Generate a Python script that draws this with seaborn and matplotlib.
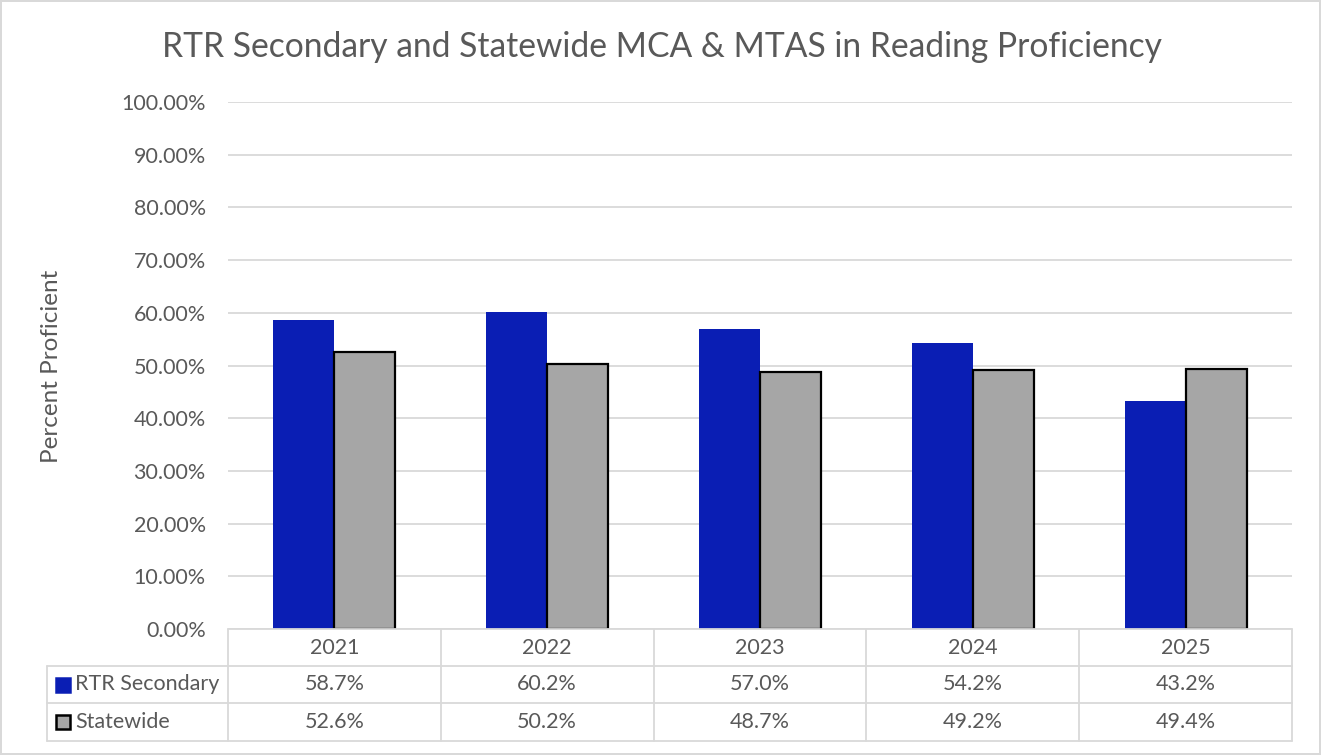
"""
RTR Secondary vs Statewide reading proficiency, bar chart with an Excel-style data table.
"""

import pandas as pd
import numpy as np
import seaborn as sns
import matplotlib.pyplot as plt
from matplotlib.lines import Line2D
from matplotlib.patches import Rectangle
from matplotlib.ticker import PercentFormatter
from matplotlib.transforms import blended_transform_factory

# Data
years = ['2021', '2022', '2023', '2024', '2025']
series_names = ['RTR Secondary', 'Statewide']
rtr_values = [0.587, 0.602, 0.570, 0.542, 0.432]
state_values = [0.526, 0.502, 0.487, 0.492, 0.494]
rtr_labels = ['58.7%', '60.2%', '57.0%', '54.2%', '43.2%']
state_labels = ['52.6%', '50.2%', '48.7%', '49.2%', '49.4%']

BLUE = '#0A1EB4'
GRAY = '#A6A6A6'
TEXT = '#595959'
GRID = '#D9D9D9'
FS = 15.5

df = pd.DataFrame({
    'Year': years * 2,
    'Value': rtr_values + state_values,
    'Series': [series_names[0]] * 5 + [series_names[1]] * 5,
})

sns.set_theme(style='white')
plt.rcParams['font.family'] = ['Lato', 'DejaVu Sans']

W, H = 1321, 755
fig = plt.figure(figsize=(W / 100, H / 100), dpi=100)
fig.patch.set_edgecolor(GRID)
fig.patch.set_linewidth(1.5)

def fx(px):
    return px / W

def fy(py):
    return 1 - py / H

# plot area in pixel terms
left, right, top, bottom = 228, 1292, 102, 629
ax = fig.add_axes([fx(left), fy(bottom), fx(right - left), fy(top) - fy(bottom)])

sns.barplot(data=df, x='Year', y='Value', hue='Series', palette=[BLUE, GRAY],
            width=0.573, saturation=1, ax=ax, legend=False)
for bar in ax.containers[1]:
    bar.set_edgecolor('black')
    bar.set_linewidth(1.6)
for bar in ax.containers[0]:
    bar.set_linewidth(0)

ax.set_ylim(0, 1)
ax.set_xlim(-0.5, 4.5)
ax.set_yticks(np.arange(0, 1.01, 0.1))
ax.yaxis.set_major_formatter(PercentFormatter(1, decimals=2))
ax.yaxis.grid(True, color=GRID, linewidth=1.3)
ax.set_axisbelow(True)
ax.tick_params(axis='y', length=0, pad=16, labelsize=FS, labelcolor=TEXT)
ax.set_xticks([])
ax.set_xlabel('')
ax.set_ylabel('')
for s in ax.spines.values():
    s.set_visible(False)

fig.text(fx(52), fy(366), 'Percent Proficient', rotation=90, ha='center', va='center',
         fontsize=17.5, color=TEXT)
fig.text(fx(662), fy(47), 'RTR Secondary and Statewide MCA & MTAS in Reading Proficiency',
         ha='center', va='center', fontsize=24.2, color=TEXT)

# data table below the plot
tr = blended_transform_factory(ax.transData, fig.transFigure)
row_y = [629, 666, 703, 741]
leg_left = 47

fig.add_artist(Line2D([fx(left), fx(right)], [fy(row_y[0])] * 2, color=GRID, lw=1.3))
for y in row_y[1:]:
    fig.add_artist(Line2D([fx(leg_left), fx(right)], [fy(y)] * 2, color=GRID, lw=1.3))
fig.add_artist(Line2D([fx(leg_left)] * 2, [fy(row_y[1]), fy(row_y[3])], color=GRID, lw=1.3))
for b in np.arange(-0.5, 4.6, 1.0):
    fig.add_artist(Line2D([b, b], [fy(row_y[0]), fy(row_y[3])], color=GRID, lw=1.3,
                          transform=tr))

for i, yr in enumerate(years):
    fig.text(i, fy((row_y[0] + row_y[1]) / 2), yr, transform=tr, ha='center', va='center',
             fontsize=FS, color=TEXT)
    fig.text(i, fy((row_y[1] + row_y[2]) / 2), rtr_labels[i], transform=tr, ha='center',
             va='center', fontsize=FS, color=TEXT)
    fig.text(i, fy((row_y[2] + row_y[3]) / 2), state_labels[i], transform=tr, ha='center',
             va='center', fontsize=FS, color=TEXT)

# legend keys inside the table
key = 14
for j, (name, col, ec) in enumerate([(series_names[0], BLUE, BLUE), (series_names[1], GRAY, 'black')]):
    yc = (row_y[j + 1] + row_y[j + 2]) / 2
    fig.add_artist(Rectangle((fx(56), fy(yc + key / 2)), fx(key), key / H,
                             facecolor=col, edgecolor=ec, lw=1.8))
    fig.text(fx(75), fy(yc), name, ha='left', va='center', fontsize=FS, color=TEXT)

fig.savefig('out.png', dpi=100)
